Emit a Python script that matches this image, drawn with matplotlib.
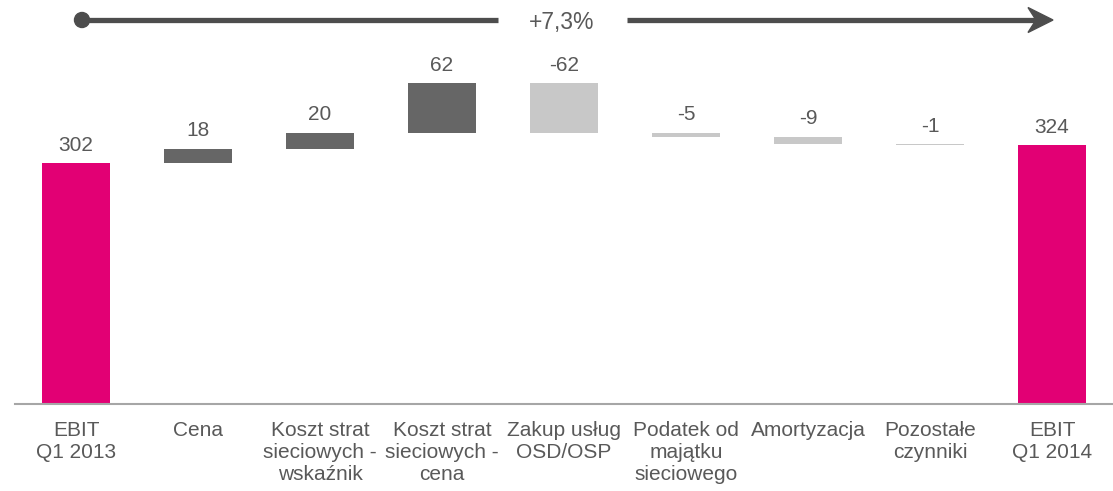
import matplotlib
matplotlib.use("Agg")
import matplotlib.pyplot as plt
from matplotlib.lines import Line2D
from matplotlib.patches import Circle, Polygon
import numpy as np

plt.rcParams["font.family"] = ["Liberation Sans", "DejaVu Sans"]

# EBIT bridge Q1 2013 -> Q1 2014 (mln zł)
categories = ["EBIT\nQ1 2013", "Cena", "Koszt strat\nsieciowych -\nwskaźnik",
              "Koszt strat\nsieciowych -\ncena", "Zakup usług\nOSD/OSP",
              "Podatek od\nmajątku\nsieciowego", "Amortyzacja",
              "Pozostałe\nczynniki", "EBIT\nQ1 2014"]
start_value = 302
changes = [18, 20, 62, -62, -5, -9, -1]
end_value = 324
change_label = "+7,3%"

MAGENTA = "#E20074"
DARK = "#666666"
LIGHT = "#C8C8C8"
TEXT = "#595959"
FS = 15

fig = plt.figure(figsize=(11.13, 4.91), dpi=100)
ax = fig.add_axes([0.0135, 0.177, 0.9865, 0.823])

x = np.arange(len(categories))
w = 0.55
lab_off = 22  # label centre above bar top, in data units


def put_label(xi, top, val):
    ax.text(xi, top + lab_off, str(val), ha="center", va="center",
            fontsize=FS, color=TEXT)


# totals
ax.bar(x[0], start_value, width=w, color=MAGENTA)
ax.bar(x[-1], end_value, width=w, color=MAGENTA)
put_label(x[0], start_value, start_value)
put_label(x[-1], end_value, end_value)

# floating steps
level = start_value
for i, d in enumerate(changes, start=1):
    lo, hi = (level, level + d) if d > 0 else (level + d, level)
    col = DARK if d > 0 else LIGHT
    ax.bar(x[i], max(hi - lo, 0.6), bottom=lo, width=w, color=col)
    put_label(x[i], hi, d)
    level += d

ax.set_xlim(-0.5, len(categories) - 0.5)
ax.set_ylim(0, 506)
ax.set_xticks(x)
ax.set_xticklabels(categories, fontsize=FS, color=TEXT, linespacing=1.2)
ax.tick_params(axis="x", length=0, pad=12)
ax.set_yticks([])
for s in ["top", "right", "left"]:
    ax.spines[s].set_visible(False)
ax.spines["bottom"].set_color("#A6A6A6")
ax.spines["bottom"].set_linewidth(1.5)

# growth arrow across the top
W, H = 1113, 491
def fx(px):
    return px / W
def fy(py):
    return 1 - py / H

ARROW = "#4D4D4D"
yy = 20
fig.add_artist(Line2D([fx(82), fx(498)], [fy(yy), fy(yy)], color=ARROW, lw=3.8,
                      transform=fig.transFigure, solid_capstyle="butt"))
fig.add_artist(Line2D([fx(627), fx(1036)], [fy(yy), fy(yy)], color=ARROW, lw=3.8,
                      transform=fig.transFigure, solid_capstyle="butt"))
fig.add_artist(Circle((82, H - yy), 7.5, color=ARROW, transform=None))
fig.add_artist(Polygon([(1053, H - yy), (1028, H - yy + 12.5), (1036, H - yy),
                        (1028, H - yy - 12.5)], closed=True, color=ARROW,
                       transform=None))
fig.text(fx(562), fy(yy + 3), change_label, ha="center", va="center",
         fontsize=16.5, color=TEXT)

fig.savefig("out.png", dpi=100)
